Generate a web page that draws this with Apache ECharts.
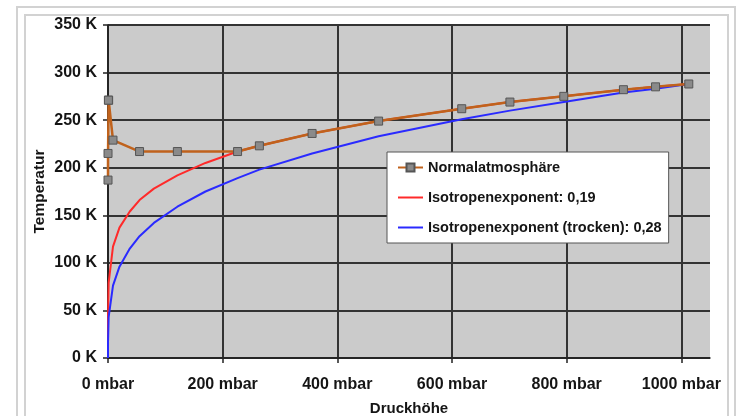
<!DOCTYPE html>
<html>
<head>
<meta charset="utf-8">
<script src="https://cdn.jsdelivr.net/npm/echarts@6/dist/echarts.min.js"></script>
<style>
html,body{margin:0;padding:0;background:#fff;}
#c{width:738px;height:416px;}
</style>
</head>
<body>
<div id="c"></div>
<script>
// Normalatmosphäre (Druck in mbar, Temperatur in K)
const stdPressure = [1013, 955, 899, 795, 701, 617, 472, 356, 264, 226, 121, 55, 8.7, 1.1, 0.7, 0.04, 0.004];
const stdTemp     = [288, 285, 282, 275, 269, 262, 249, 236, 223, 217, 217, 217, 229, 271, 271, 215, 187];

// Isotropenexponent-Kurven
const curvePressure = [0, 0.004, 0.04, 1.1, 8.7, 20, 38, 55, 80, 121, 170, 226, 264, 356, 472, 617, 701, 795, 899, 955, 1013];
const redTemp  = [0, 27, 42, 79, 117, 137, 154, 166, 178, 192, 205, 217, 223, 236, 249, 262, 269, 275, 282, 285, 288];
const blueTemp = [0, 9, 17, 43, 76, 96, 115, 128, 142, 159, 175, 189, 198, 215, 233, 251, 260, 269, 279, 283, 288];

const xTicks = [0, 200, 400, 600, 800, 1000];
const yTicks = [0, 50, 100, 150, 200, 250, 300, 350];

const seriesNames = ['Normalatmosphäre', 'Isotropenexponent: 0,19', 'Isotropenexponent (trocken): 0,28'];

function pairs(xs, ys) { return xs.map((x, i) => [x, ys[i]]); }

const FONT = 'Liberation Sans';
const LINE_ICON = 'path://M0,0L25,0L25,2L0,2Z';
const chart = echarts.init(document.getElementById('c'), null, {renderer: 'canvas'});
chart.setOption({
  animation: false,
  backgroundColor: '#ffffff',
  textStyle: {fontFamily: FONT},
  graphic: [
    {type: 'rect', z: -10, silent: true, shape: {x: 17, y: 7, width: 718, height: 430}, style: {fill: null, stroke: '#d2d2d2', lineWidth: 2}},
    {type: 'rect', z: -10, silent: true, shape: {x: 25, y: 15, width: 703, height: 420}, style: {fill: null, stroke: '#d2d2d2', lineWidth: 2}}
  ],
  grid: {left: 108, right: 28, top: 25, bottom: 58, show: true, backgroundColor: '#cbcbcb', borderWidth: 0,
         containLabel: false, outerBoundsMode: 'none'},
  legend: {
    orient: 'vertical', left: 387, top: 152,
    padding: [8, 7, 8, 10], itemGap: 15, itemWidth: 25, itemHeight: 10,
    backgroundColor: '#ffffff', borderColor: '#555555', borderWidth: 1,
    symbolKeepAspect: true,
    data: [
      {name: seriesNames[0]},
      {name: seriesNames[1], icon: LINE_ICON},
      {name: seriesNames[2], icon: LINE_ICON}
    ],
    textStyle: {fontFamily: FONT, fontSize: 14.5, fontWeight: 'bold', color: '#151515', lineHeight: 15}
  },
  xAxis: {
    type: 'value', min: 0, max: 1050, interval: 200,
    name: 'Druckhöhe', nameLocation: 'middle', nameGap: 43,
    nameTextStyle: {fontFamily: FONT, fontSize: 15, fontWeight: 'bold', color: '#151515'},
    axisLine: {show: true, lineStyle: {color: '#222', width: 1.5}},
    axisTick: {show: true, length: 5, customValues: xTicks, lineStyle: {color: '#222', width: 1.5}},
    axisLabel: {customValues: xTicks, formatter: v => v + ' mbar', margin: 19, fontFamily: FONT, fontSize: 16, fontWeight: 'bold', color: '#151515'},
    splitLine: {show: true, lineStyle: {color: '#333', width: 2}}
  },
  yAxis: {
    type: 'value', min: 0, max: 350, interval: 50,
    name: 'Temperatur', nameLocation: 'middle', nameGap: 60, nameMoveOverlap: false,
    nameTextStyle: {fontFamily: FONT, fontSize: 15.5, fontWeight: 'bold', color: '#151515'},
    axisLine: {show: true, lineStyle: {color: '#222', width: 1.5}},
    axisTick: {show: true, length: 5, customValues: yTicks, lineStyle: {color: '#222', width: 1.5}},
    axisLabel: {customValues: yTicks, formatter: v => v + ' K', margin: 11, fontFamily: FONT, fontSize: 16, fontWeight: 'bold', color: '#151515'},
    splitLine: {show: true, lineStyle: {color: '#333', width: 2}}
  },
  series: [
    {
      name: seriesNames[0], type: 'line', z: 5,
      data: pairs(stdPressure, stdTemp),
      symbol: 'rect', symbolSize: 8,
      itemStyle: {color: '#8a8a8a', borderColor: '#555', borderWidth: 1},
      lineStyle: {color: '#c0621c', width: 2.5}
    },
    {
      name: seriesNames[1], type: 'line', z: 3,
      data: pairs(curvePressure, redTemp),
      showSymbol: false, symbol: 'none',
      itemStyle: {color: '#ff2a2a'},
      lineStyle: {color: '#ff2a2a', width: 2}
    },
    {
      name: seriesNames[2], type: 'line', z: 4,
      data: pairs(curvePressure, blueTemp),
      showSymbol: false, symbol: 'none',
      itemStyle: {color: '#2a2aff'},
      lineStyle: {color: '#2a2aff', width: 2}
    }
  ]
});
</script>
</body>
</html>
